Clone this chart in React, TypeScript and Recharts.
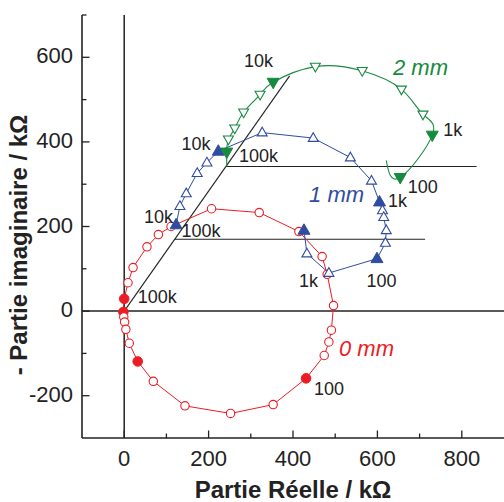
import React from 'react';
import { ComposedChart, XAxis, YAxis, Scatter, Line, ReferenceLine } from 'recharts';

const RED = '#ec1c24';
const BLUE = '#2f4ca0';
const GREEN = '#168a3e';
const INK = '#222';
const FONT = '"Liberation Sans", Arial, Helvetica, sans-serif';

// 0 mm (closed loop), Re / -Im in kOhm
const re0 = [0, -2, -1, 1, 4, 12, 32, 69, 144, 252, 353, 431, 474, 485, 491, 496, 481, 469, 414, 320, 207, 111, 81, 54, 21, 9];
const im0 = [29, -2, -14, -26, -43, -76, -119, -166, -224, -242, -221, -159, -105, -73, -45, 13, 87, 129, 188, 233, 242, 200, 181, 152, 103, 67];
const dec0 = [0, 1, 6, 11];

// 1 mm
const re1 = [123, 132, 147, 173, 196, 223, 327, 448, 536, 586, 605, 612, 615, 621, 619, 599, 485, 433, 426];
const im1 = [204, 248, 278, 326, 351, 378, 422, 409, 363, 308, 258, 238, 222, 191, 161, 124, 90, 136, 191];
const dec1 = [0, 5, 10, 15, 18];

// 2 mm (first and last points are curve ends only)
const re2 = [243, 243, 247, 262, 283, 322, 353, 453, 564, 657, 708, 730, 654, 621];
const im2 = [342, 376, 406, 432, 470, 512, 541, 578, 568, 524, 465, 416, 316, 356];
const dec2 = [1, 6, 11, 12];
const bare2 = [0, 13];

// guide lines
const diag = [{ x: 0, y: 0 }, { x: 392, y: 556 }];
const guide1 = [{ x: 120, y: 170 }, { x: 713, y: 170 }];
const guide2 = [{ x: 241, y: 342 }, { x: 835, y: 342 }];

// frequency annotations
const freqText = ['10k', '10k', '100k', '1k', '100', '1k', '10k', '100k', '1k', '100', '100k', '100'];
const freqX = [284, 136, 272, 756, 672, 625, 47, 136, 414, 574, 32, 450];
const freqY = [578, 380, 352, 415, 279, 247, 209, 175, 57, 57, 20, -199];

const seriesText = ['0 mm', '1 mm', '2 mm'];
const seriesX = [509, 438, 637];
const seriesY = [-105, 258, 557];
const seriesColor = [RED, BLUE, GREEN];

const xTicks = [-100, 0, 100, 200, 300, 400, 500, 600, 700, 800, 900];
const yTicks = [-300, -200, -100, 0, 100, 200, 300, 400, 500, 600, 700];

const path = (re: number[], im: number[]) => re.map((x, i) => ({ x, y: im[i] }));
const marks = (re: number[], im: number[], dec: number[], skip: number[] = []) =>
  re
    .map((x, i) => ({ x, y: im[i], filled: dec.includes(i), i }))
    .filter((p) => !skip.includes(p.i));

const triPath = (cx: number, cy: number, s: number, up: boolean) => {
  const h = s * 0.87;
  if (up) return `M${cx},${cy - h * 0.62}L${cx + s / 2},${cy + h * 0.38}L${cx - s / 2},${cy + h * 0.38}Z`;
  return `M${cx},${cy + h * 0.62}L${cx + s / 2},${cy - h * 0.38}L${cx - s / 2},${cy - h * 0.38}Z`;
};

const Circle = (props: any) => {
  const { cx, cy, payload } = props;
  return payload.filled ? (
    <circle cx={cx} cy={cy} r={4.8} fill={RED} stroke={RED} />
  ) : (
    <circle cx={cx} cy={cy} r={4.2} fill="#fff" stroke={RED} strokeWidth={1.1} />
  );
};

const makeTri = (color: string, up: boolean) => (props: any) => {
  const { cx, cy, payload } = props;
  return payload.filled ? (
    <path d={triPath(cx, cy, 12, up)} fill={color} stroke={color} />
  ) : (
    <path d={triPath(cx, cy, 10, up)} fill="#fff" stroke={color} strokeWidth={1.1} />
  );
};

const XTick = (props: any) => {
  const { x, y, payload } = props;
  const v = payload.value;
  if (v <= -100 || v >= 900) return <g />;
  const major = v % 200 === 0;
  return (
    <g>
      <line x1={x} y1={y} x2={x} y2={y - (major ? 7.5 : 4.5)} stroke={INK} strokeWidth={1.3} />
      {major && (
        <text x={x} y={y + 28} textAnchor="middle" fontSize={22} fill={INK} fontFamily={FONT}>
          {v}
        </text>
      )}
    </g>
  );
};

const YTick = (props: any) => {
  const { x, y, payload } = props;
  const v = payload.value;
  if (v <= -300) return <g />;
  const major = v % 200 === 0;
  return (
    <g>
      <line x1={x} y1={y} x2={x + (major ? 7.5 : 4.5)} y2={y} stroke={INK} strokeWidth={1.3} />
      {major && (
        <text x={x - 9} y={y + 6} textAnchor="end" fontSize={22} fill={INK} fontFamily={FONT}>
          {v}
        </text>
      )}
    </g>
  );
};

const freqLabels = freqText.map((t, i) => ({ x: freqX[i], y: freqY[i], t }));
const nameLabels = seriesText.map((t, i) => ({ x: seriesX[i], y: seriesY[i], t, c: seriesColor[i] }));

const FreqText = (props: any) => (
  <text x={props.cx} y={props.cy} fontSize={18} fill={INK} fontFamily={FONT}>
    {props.payload.t}
  </text>
);
const NameText = (props: any) => (
  <text x={props.cx} y={props.cy} fontSize={22} fontStyle="italic" fill={props.payload.c} fontFamily={FONT}>
    {props.payload.t}
  </text>
);

export default function App() {
  return (
    <div style={{ position: 'absolute', left: 0, top: 0, background: '#fff' }}>
      <ComposedChart width={504} height={502} margin={{ top: 15, right: 0, bottom: 0, left: 0 }}>
        <XAxis
          dataKey="x"
          type="number"
          domain={[-100, 900]}
          ticks={xTicks}
          interval={0}
          allowDataOverflow
          tickSize={0}
          tickMargin={0}
          tickLine={false}
          tick={<XTick />}
          height={64}
          axisLine={{ stroke: INK, strokeWidth: 1.6 }}
          label={() => (
            <text x={293} y={498} textAnchor="middle" fontSize={24} fontWeight="bold" fill={INK} fontFamily={FONT}>
              Partie Réelle / kΩ
            </text>
          )}
        />
        <YAxis
          dataKey="y"
          type="number"
          domain={[-300, 700]}
          ticks={yTicks}
          interval={0}
          allowDataOverflow
          tickSize={0}
          tickMargin={0}
          tickLine={false}
          tick={<YTick />}
          width={82}
          axisLine={{ stroke: INK, strokeWidth: 1.6 }}
          label={() => (
            <text
              x={27}
              y={245}
              textAnchor="middle"
              fontSize={24}
              fontWeight="bold"
              fill={INK}
              fontFamily={FONT}
              transform="rotate(-90 27 245)"
            >
              - Partie imaginaire / kΩ
            </text>
          )}
        />
        <ReferenceLine x={0} stroke={INK} strokeWidth={1.5} />
        <ReferenceLine y={0} stroke={INK} strokeWidth={1.5} />
        <ReferenceLine segment={diag} stroke={INK} strokeWidth={1.1} />
        <ReferenceLine segment={guide1} stroke={INK} strokeWidth={1.1} />
        <ReferenceLine segment={guide2} stroke={INK} strokeWidth={1.1} />

        <Line data={path(re0, im0)} dataKey="y" type="linearClosed" stroke={RED} strokeWidth={1} dot={false} activeDot={false} isAnimationActive={false} />
        <Scatter data={marks(re0, im0, dec0)} shape={Circle} isAnimationActive={false} />

        <Line data={path(re1, im1)} dataKey="y" type="linear" stroke={BLUE} strokeWidth={1} dot={false} activeDot={false} isAnimationActive={false} />
        <Scatter data={marks(re1, im1, dec1)} shape={makeTri(BLUE, true)} isAnimationActive={false} />

        <Line data={path(re2, im2)} dataKey="y" type="natural" stroke={GREEN} strokeWidth={1.1} dot={false} activeDot={false} isAnimationActive={false} />
        <Scatter data={marks(re2, im2, dec2, bare2)} shape={makeTri(GREEN, false)} isAnimationActive={false} />

        <Scatter data={freqLabels} shape={FreqText} isAnimationActive={false} />
        <Scatter data={nameLabels} shape={NameText} isAnimationActive={false} />
      </ComposedChart>
    </div>
  );
}
